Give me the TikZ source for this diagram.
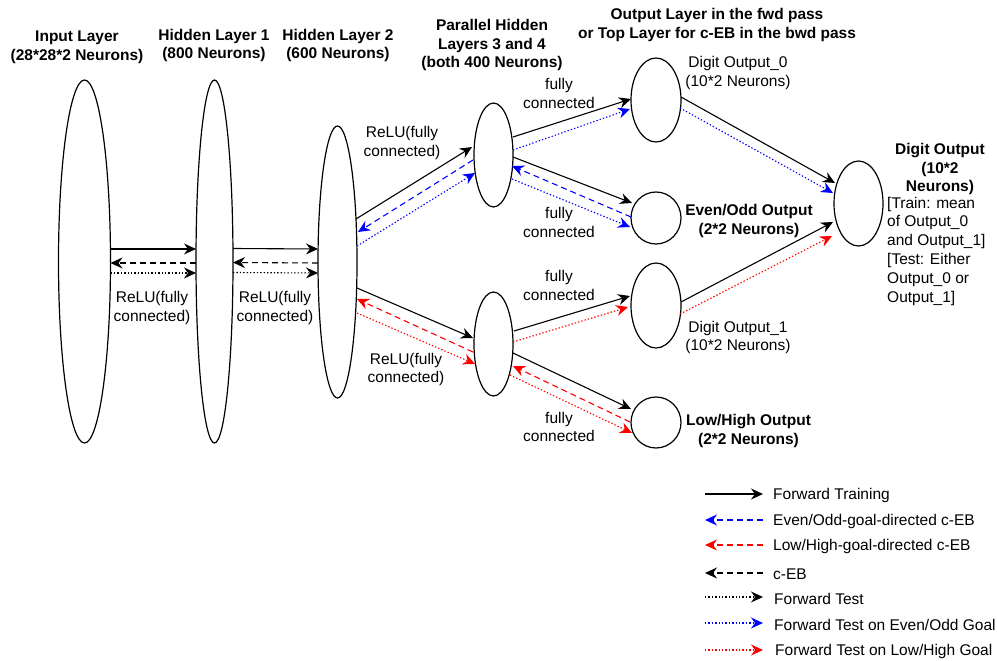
\documentclass[tikz,border=0pt]{standalone}
\usepackage{fontspec}
\setmainfont{Liberation Sans}
\usetikzlibrary{arrows.meta,shapes.geometric}
\begin{document}
\begin{tikzpicture}[x=1pt,y=-1pt,
  ell/.style={draw,ellipse,line width=1.2pt,inner sep=0pt,outer sep=0pt},
  txt/.style={inner sep=0pt,align=center,yshift=-1.5pt,font=\fontsize{15.5}{18.8}\selectfont},
  hdr/.style={txt,font=\fontsize{15.5}{18.8}\selectfont\bfseries},
  arr/.style={line width=1.1pt,-{Stealth[length=12pt,width=11pt,inset=4pt]}},
  dsh/.style={arr,dash pattern=on 6pt off 4pt},
  dtt/.style={arr,dash pattern=on 1.4pt off 2pt}
]
\useasboundingbox (0,0) rectangle (997,661);

% ellipses
\node[ell,minimum width=52,minimum height=363] (in) at (84.5,261.5) {};
\node[ell,minimum width=37,minimum height=363] (h1) at (214.5,261.5) {};
\node[ell,minimum width=39,minimum height=272] (h2) at (337.5,262) {};
\node[ell,minimum width=39,minimum height=104] (pt) at (493.5,155) {};
\node[ell,minimum width=39,minimum height=104] (pb) at (493.5,344) {};
\node[ell,minimum width=50,minimum height=84] (d0) at (656,100) {};
\node[ell,minimum width=50,minimum height=52] (eo) at (656,218) {};
\node[ell,minimum width=50,minimum height=85] (d1) at (656,305.5) {};
\node[ell,minimum width=50,minimum height=51] (lh) at (656,422.5) {};
\node[ell,minimum width=49,minimum height=85] (dout) at (858.5,203.5) {};

% headers
\node[hdr] (tin) at (77,45.5) {Input Layer\\(28*28*2 Neurons)};
\node[hdr] (th1) at (214,44) {Hidden Layer 1\\(800 Neurons)};
\node[hdr] (th2) at (338,44) {Hidden Layer 2\\(600 Neurons)};
\node[hdr] (tpar) at (492,43.5) {Parallel Hidden\\Layers 3 and 4\\(both 400 Neurons)};
\node[hdr] (tout) at (717,23.5) {Output Layer in the fwd pass\\or Top Layer for c-EB in the bwd pass};

% labels
\node[txt] (td0) at (738,71.5) {Digit Output\_0\\(10*2 Neurons)};
\node[txt] (td1) at (738,336) {Digit Output\_1\\(10*2 Neurons)};
\node[hdr] (teo) at (749,219.5) {Even/Odd Output\\(2*2 Neurons)};
\node[hdr] (tlh) at (748.5,429.5) {Low/High Output\\(2*2 Neurons)};
\node[hdr] (tdo) at (940,167.5) {Digit Output\\(10*2\\Neurons)};
\node[txt,align=left,anchor=west] (tdo2) at (887,249.5) {{[Train: mean}\\of Output\_0\\and Output\_1{]}\\{[Test: Either}\\Output\_0 or\\Output\_1{]}};
\node[txt] (r1) at (152,306.5) {ReLU(fully\\connected)};
\node[txt] (r2) at (275,306.5) {ReLU(fully\\connected)};
\node[txt] (r3) at (402,141.5) {ReLU(fully\\connected)};
\node[txt] (r4) at (406,368) {ReLU(fully\\connected)};
\node[txt] (f1) at (559,92) {fully\\connected};
\node[txt] (f2) at (559,221) {fully\\connected};
\node[txt] (f3) at (559,284) {fully\\connected};
\node[txt] (f4) at (559,425.5) {fully\\connected};

% input <-> hidden1 <-> hidden2
\draw[arr] ([shift={(0,-12.5)}]in.east) -- ([shift={(0,-12.5)}]h1.west);
\draw[dsh] ([shift={(0,1.5)}]h1.west) -- ([shift={(0,1.5)}]in.east);
\draw[dtt] ([shift={(0,11.5)}]in.east) -- ([shift={(0,11.5)}]h1.west);
\draw[arr] ([shift={(0,-13)}]h1.east) -- ([shift={(0,-13)}]h2.west);
\draw[dsh] ([shift={(0,1)}]h2.west) -- ([shift={(0,1)}]h1.east);
\draw[dtt] ([shift={(0,11)}]h1.east) -- ([shift={(0,11)}]h2.west);

% hidden2 <-> parallel top
\draw[arr] ([shift={(-1,-43)}]h2.east) -- ([shift={(-2,-8)}]pt.west);
\draw[dsh,blue] ([shift={(-1,5)}]pt.west) -- ([shift={(1,-30)}]h2.east);
\draw[dtt,blue] ([shift={(0,-16)}]h2.east) -- ([shift={(1,18)}]pt.west);

% hidden2 <-> parallel bottom
\draw[arr] ([shift={(0,26)}]h2.east) -- ([shift={(-1,-6)}]pb.west);
\draw[dsh,red] ([shift={(-1,8)}]pb.west) -- ([shift={(0,37)}]h2.east);
\draw[dtt,red] ([shift={(0,51)}]h2.east) -- ([shift={(1,20)}]pb.west);

% parallel top -> outputs
\draw[arr] ([shift={(0,-18)}]pt.east) -- ([shift={(0,-1)}]d0.west);
\draw[dtt,blue] ([shift={(0,-5)}]pt.east) -- ([shift={(-1,9)}]d0.west);
\draw[arr] ([shift={(0,2)}]pt.east) -- ([shift={(1,-15)}]eo.west);
\draw[dsh,blue] ([shift={(0,-1)}]eo.west) -- ([shift={(-1,11)}]pt.east);
\draw[dtt,blue] ([shift={(-1,24)}]pt.east) -- ([shift={(-1,9)}]eo.west);

% parallel bottom -> outputs
\draw[arr] ([shift={(1,-13)}]pb.east) -- ([shift={(-1,-9.5)}]d1.west);
\draw[dtt,red] ([shift={(0,-2)}]pb.east) -- ([shift={(-3,1.5)}]d1.west);
\draw[arr] ([shift={(0,9)}]pb.east) -- ([shift={(0,-13.5)}]lh.west);
\draw[dsh,red] ([shift={(-1,-0.5)}]lh.west) -- ([shift={(0,22)}]pb.east);
\draw[dtt,red] ([shift={(-3,31)}]pb.east) -- ([shift={(1,10.5)}]lh.west);

% digit outputs -> final
\draw[arr] ([shift={(0,-3)}]d0.east) -- ([shift={(1,-20.5)}]dout.west);
\draw[dtt,blue] ([shift={(-1,8)}]d0.east) -- ([shift={(-1,-10.5)}]dout.west);
\draw[arr] ([shift={(0,-3.5)}]d1.east) -- ([shift={(-1,18.5)}]dout.west);
\draw[dtt,red] ([shift={(-1,8.5)}]d1.east) -- ([shift={(-2,32.5)}]dout.west);

% legend
\foreach \n/\y in {1/494,2/520,3/545,4/573,5/597,6/623,7/650}{
  \coordinate (la\n) at (705,\y);
  \coordinate (lb\n) at (763,\y);
}
\draw[arr] (la1) -- (lb1);
\draw[dsh,blue] (lb2) -- (la2);
\draw[dsh,red] (lb3) -- (la3);
\draw[dsh] (lb4) -- (la4);
\draw[dtt] (la5) -- (lb5);
\draw[dtt,blue] (la6) -- (lb6);
\draw[dtt,red] (la7) -- (lb7);
\node[txt,anchor=west] (lt1) at (773,494) {Forward Training};
\node[txt,anchor=west] (lt2) at (773,520) {Even/Odd-goal-directed c-EB};
\node[txt,anchor=west] (lt3) at (773,545) {Low/High-goal-directed c-EB};
\node[txt,anchor=west] (lt4) at (773,573) {c-EB};
\node[txt,anchor=west] (lt5) at (774,597) {Forward Test};
\node[txt,anchor=west] (lt6) at (774,623) {Forward Test on Even/Odd Goal};
\node[txt,anchor=west] (lt7) at (775,650) {Forward Test on Low/High Goal};
\end{tikzpicture}
\end{document}
